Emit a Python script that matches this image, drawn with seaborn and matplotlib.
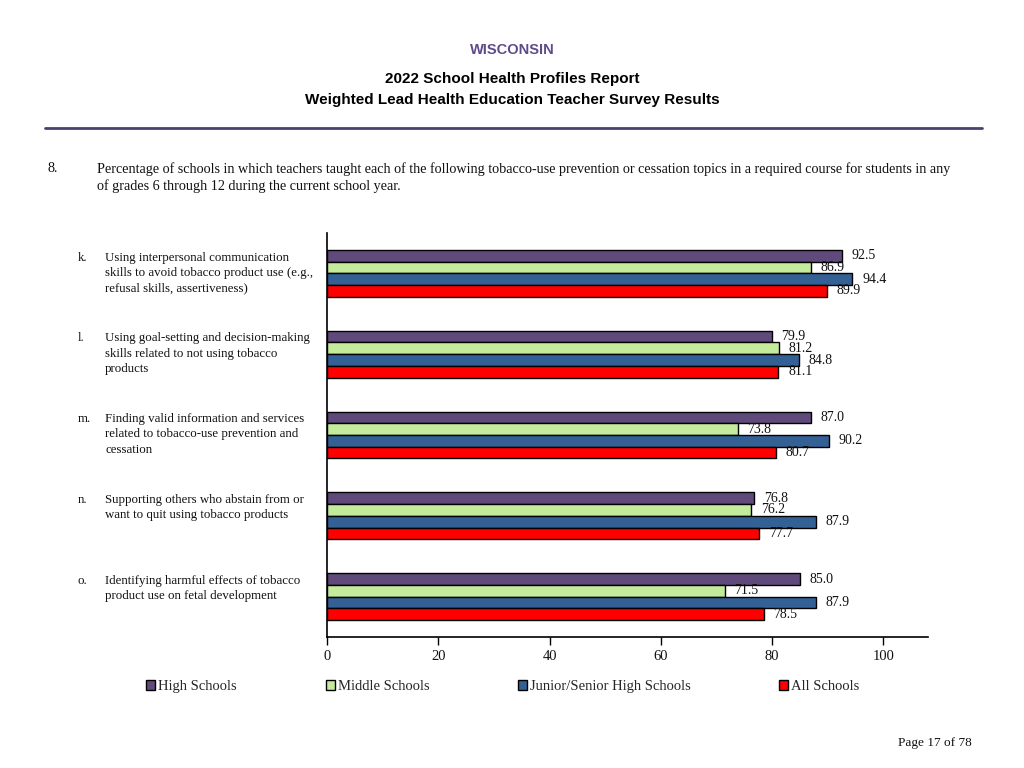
import matplotlib
matplotlib.use("Agg")
import matplotlib.pyplot as plt
import seaborn as sns
import pandas as pd
from matplotlib.patches import Patch
from matplotlib.lines import Line2D
from matplotlib.transforms import blended_transform_factory

# ---- data ----
letters = ["k.", "l.", "m.", "n.", "o."]
topics = [
    "Using interpersonal communication\nskills to avoid tobacco product use (e.g.,\nrefusal skills, assertiveness)",
    "Using goal-setting and decision-making\nskills related to not using tobacco\nproducts",
    "Finding valid information and services\nrelated to tobacco-use prevention and\ncessation",
    "Supporting others who abstain from or\nwant to quit using tobacco products",
    "Identifying harmful effects of tobacco\nproduct use on fetal development",
]
series_names = ["High Schools", "Middle Schools", "Junior/Senior High Schools", "All Schools"]
high_schools = [92.5, 79.9, 87.0, 76.8, 85.0]
middle_schools = [86.9, 81.2, 73.8, 76.2, 71.5]
junior_senior = [94.4, 84.8, 90.2, 87.9, 87.9]
all_schools = [89.9, 81.1, 80.7, 77.7, 78.5]
x_ticks = [0, 20, 40, 60, 80, 100]

colors = ["#604A7B", "#C3EB9B", "#336095", "#FF0000"]

rows = []
for name, vals in zip(series_names, [high_schools, middle_schools, junior_senior, all_schools]):
    for t, v in zip(letters, vals):
        rows.append({"topic": t, "series": name, "value": v})
df = pd.DataFrame(rows)

sns.set_theme(style="white")
plt.rcParams["font.family"] = ["Liberation Serif", "DejaVu Serif"]

TXT = "#111111"
fig = plt.figure(figsize=(10.24, 7.68), dpi=100)
ax = fig.add_axes([327 / 1024, 1 - 637 / 768, (928 - 327) / 1024, (637 - 233) / 768])

sns.barplot(data=df, y="topic", x="value", hue="series", order=letters,
            hue_order=series_names, palette=colors, saturation=1, orient="h", width=0.58,
            edgecolor="black", linewidth=1.0, ax=ax, legend=False, errorbar=None)

for cont in ax.containers:
    ax.bar_label(cont, labels=[f"{b.get_width():.1f}" for b in cont], padding=7,
                 fontsize=10, family="Liberation Serif", color=TXT)

ax.set_xlim(0, 108)
ax.set_ylim(4.5, -0.5)
ax.set_xticks(x_ticks)
ax.set_xticklabels([str(t) for t in x_ticks], fontsize=10.5, family="Liberation Serif", color=TXT)
ax.set_yticks([])
ax.set_xlabel("")
ax.set_ylabel("")
for s in ["top", "right"]:
    ax.spines[s].set_visible(False)
for s in ["left", "bottom"]:
    ax.spines[s].set_color("black")
    ax.spines[s].set_linewidth(1.2)
ax.tick_params(axis="x", direction="out", length=6, width=1, color="black", pad=3, bottom=True)

# category labels
tr = blended_transform_factory(fig.transFigure, ax.transData)
for i, (l, t) in enumerate(zip(letters, topics)):
    ax.text(78 / 1024, i - 0.27, l, transform=tr, ha="left", va="top", fontsize=9.25,
            family="Liberation Serif", color=TXT)
    ax.text(105 / 1024, i - 0.27, t, transform=tr, ha="left", va="top", fontsize=9.25,
            family="Liberation Serif", color=TXT, linespacing=1.36)

# header
hdr = ["Liberation Sans Narrow", "Liberation Sans", "DejaVu Sans"]
fig.text(0.5, 1 - 50 / 768, "WISCONSIN", ha="center", va="center", fontsize=10.5,
         fontweight="bold", color="#5F4B8B", family=hdr)
fig.text(0.5, 1 - 79 / 768, "2022 School Health Profiles Report", ha="center", va="center",
         fontsize=11, fontweight="bold", color="black", family=hdr)
fig.text(0.5, 1 - 100 / 768, "Weighted Lead Health Education Teacher Survey Results", ha="center",
         va="center", fontsize=11, fontweight="bold", color="black", family=hdr)
fig.add_artist(Line2D([45 / 1024, 982 / 1024], [1 - 128 / 768] * 2, color="#4B4272", lw=2))

# question
fig.text(48 / 1024, 1 - 169 / 768, "8.", ha="left", va="center", fontsize=10.2,
         family="Liberation Serif", color=TXT)
fig.text(97 / 1024, 1 - 169 / 768,
         "Percentage of schools in which teachers taught each of the following tobacco-use prevention or cessation topics in a required course for students in any",
         ha="left", va="center", fontsize=10.2, family="Liberation Serif", color=TXT)
fig.text(97 / 1024, 1 - 186 / 768, "of grades 6 through 12 during the current school year.",
         ha="left", va="center", fontsize=10.2, family="Liberation Serif", color=TXT)

# legend
leg_x = [146, 326, 518, 779]
for name, c, lx in zip(series_names, colors, leg_x):
    h = Patch(facecolor=c, edgecolor="black", linewidth=1)
    fig.legend(handles=[h], labels=[name], loc="upper left",
               bbox_to_anchor=(lx / 1024, 1 - 680 / 768), frameon=False,
               handlelength=0.65, handleheight=0.65, handletextpad=0.15,
               borderpad=0, borderaxespad=0,
               prop={"family": "Liberation Serif", "size": 10.5})

fig.text(972 / 1024, 1 - 743 / 768, "Page 17 of 78", ha="right", va="center", fontsize=9.5,
         family="Liberation Serif", color=TXT)

fig.savefig("out.png", dpi=100, facecolor="white")
